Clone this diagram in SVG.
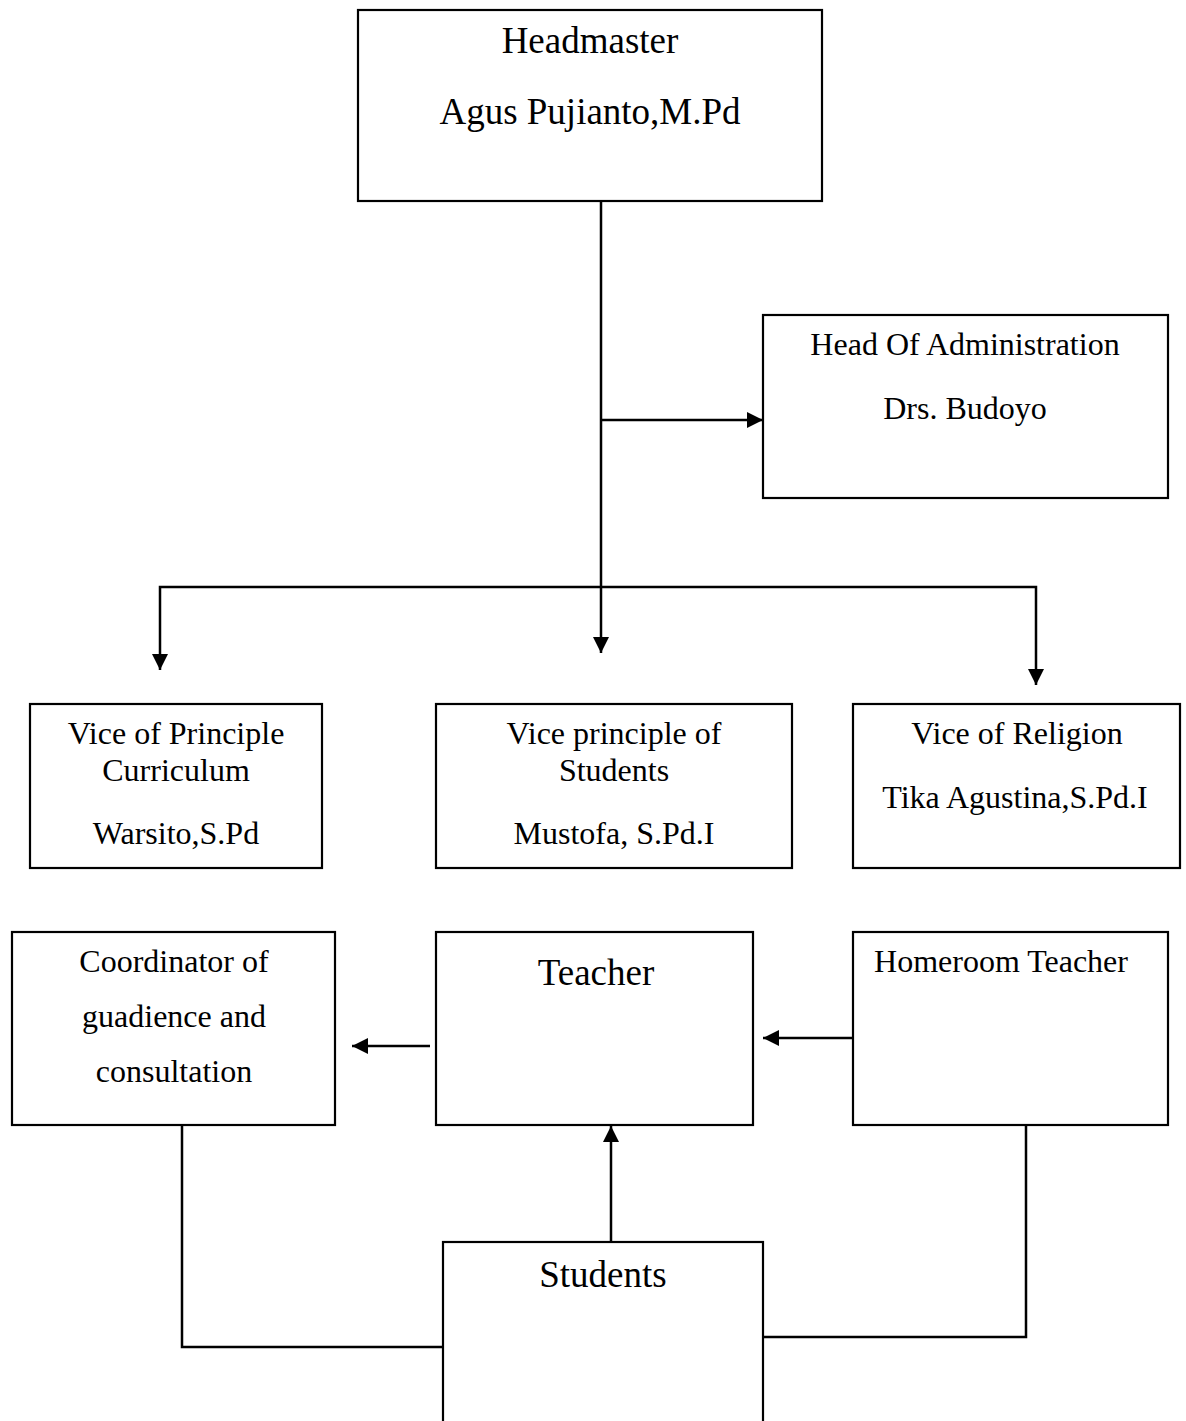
<svg xmlns="http://www.w3.org/2000/svg" width="1186" height="1421" viewBox="0 0 1186 1421">
  <style>
    .box { fill: #ffffff; stroke: #000000; stroke-width: 2.2; }
    .conn { fill: none; stroke: #000000; stroke-width: 2.5; }
    .big { font-family: "Liberation Serif", "Times New Roman", serif; font-size: 37px; fill: #000000; text-anchor: middle; }
    .small { font-family: "Liberation Serif", "Times New Roman", serif; font-size: 32px; fill: #000000; text-anchor: middle; }
  </style>
  <defs>
    <marker id="arrow" markerUnits="userSpaceOnUse" markerWidth="17" markerHeight="16" refX="16" refY="8" orient="auto">
      <path d="M0,0 L16,8 L0,16 z" fill="#000000"/>
    </marker>
  </defs>
  <rect width="1186" height="1421" fill="#ffffff"/>

  <g id="connectors">
    <path class="conn" d="M601,201 V653" marker-end="url(#arrow)"/>
    <path class="conn" d="M601,420 H763" marker-end="url(#arrow)"/>
    <path class="conn" d="M601,587 H160 V670" marker-end="url(#arrow)"/>
    <path class="conn" d="M601,587 H1036 V685" marker-end="url(#arrow)"/>
    <path class="conn" d="M430,1046 H352" marker-end="url(#arrow)"/>
    <path class="conn" d="M853,1038 H763" marker-end="url(#arrow)"/>
    <path class="conn" d="M611,1242 V1126" marker-end="url(#arrow)"/>
    <path class="conn" d="M182,1125 V1347 H443"/>
    <path class="conn" d="M1026,1125 V1337 H763"/>
  </g>

  <g id="headmaster">
    <rect class="box" x="358" y="10" width="464" height="191"/>
    <text class="big" x="590" y="53">Headmaster</text>
    <text class="big" x="590" y="124">Agus Pujianto,M.Pd</text>
  </g>

  <g id="head-administration">
    <rect class="box" x="763" y="315" width="405" height="183"/>
    <text class="small" x="965" y="355">Head Of Administration</text>
    <text class="small" x="965" y="419">Drs. Budoyo</text>
  </g>

  <g id="vice-curriculum">
    <rect class="box" x="30" y="704" width="292" height="164"/>
    <text class="small" x="176" y="744">Vice of Principle</text>
    <text class="small" x="176" y="781">Curriculum</text>
    <text class="small" x="176" y="844">Warsito,S.Pd</text>
  </g>

  <g id="vice-students">
    <rect class="box" x="436" y="704" width="356" height="164"/>
    <text class="small" x="614" y="744">Vice principle of</text>
    <text class="small" x="614" y="781">Students</text>
    <text class="small" x="614" y="844">Mustofa, S.Pd.I</text>
  </g>

  <g id="vice-religion">
    <rect class="box" x="853" y="704" width="327" height="164"/>
    <text class="small" x="1017" y="744">Vice of Religion</text>
    <text class="small" x="1015" y="808">Tika Agustina,S.Pd.I</text>
  </g>

  <g id="coordinator">
    <rect class="box" x="12" y="932" width="323" height="193"/>
    <text class="small" x="174" y="972">Coordinator of</text>
    <text class="small" x="174" y="1027">guadience and</text>
    <text class="small" x="174" y="1082">consultation</text>
  </g>

  <g id="teacher">
    <rect class="box" x="436" y="932" width="317" height="193"/>
    <text class="big" x="596" y="985">Teacher</text>
  </g>

  <g id="homeroom">
    <rect class="box" x="853" y="932" width="315" height="193"/>
    <text class="small" x="1001" y="972">Homeroom Teacher</text>
  </g>

  <g id="students">
    <rect class="box" x="443" y="1242" width="320" height="190"/>
    <text class="big" x="603" y="1287">Students</text>
  </g>
</svg>
